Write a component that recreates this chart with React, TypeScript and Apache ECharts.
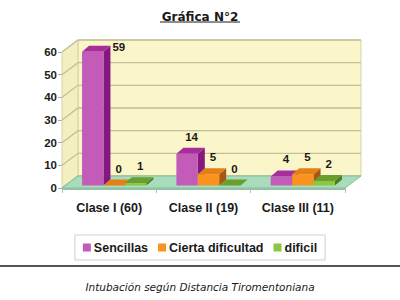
import React, { useEffect, useRef } from "react";
import * as echarts from "echarts";

const categories = ["Clase I (60)", "Clase II (19)", "Clase III (11)"];
const seriesNames = ["Sencillas", "Cierta dificultad", "dificil"];
const sencillas = [59, 14, 4];
const ciertaDificultad = [0, 5, 5];
const dificil = [1, 0, 2];
const yTicks = [0, 10, 20, 30, 40, 50, 60];

const FRONT = ["#c25cb8", "#f7931e", "#8dc73f"];
const TOP = ["#a52d9c", "#e57f16", "#6a9e2e"];
const SIDE = ["#86177e", "#a65812", "#4b7b20"];

const DX = 16; // wall depth
const DY = 12;
const BDX = 7; // bar depth
const BDY = 6;
const SHIFT_X = 5;
const SHIFT_Y = -2.5;

export default function App() {
  const ref = useRef<HTMLDivElement>(null);
  useEffect(() => {
    if (!ref.current) return;
    const chart = echarts.init(ref.current, null, { renderer: "svg" });
    const allSeries = [sencillas, ciertaDificultad, dificil];

    const wallSeries: any = {
      type: "custom",
      name: "__wall",
      silent: true,
      z: 1,
      data: [[0, 0]],
      renderItem: (params: any, api: any) => {
        const cs = params.coordSys;
        const x = cs.x, y = cs.y, w = cs.width, h = cs.height;
        const children: any[] = [];
        children.push({
          type: "polygon",
          shape: { points: [[x + DX, y - DY], [x + w + DX, y - DY], [x + w + DX, y + h - DY], [x + DX, y + h - DY]] },
          style: { fill: "#faf6c9", stroke: "#d6d2a4", lineWidth: 1 },
        });
        children.push({
          type: "polygon",
          shape: { points: [[x, y], [x + DX, y - DY], [x + DX, y + h - DY], [x, y + h]] },
          style: { fill: "#f3efc0", stroke: "#d6d2a4", lineWidth: 1 },
        });
        yTicks.forEach((t) => {
          const p = api.coord([0, t]);
          const yy = p[1];
          children.push({
            type: "polyline",
            shape: { points: [[x, yy], [x + DX, yy - DY], [x + w + DX, yy - DY]] },
            style: { stroke: "#c4c096", lineWidth: 1.3, fill: null },
          });
        });
        children.push({
          type: "polygon",
          shape: { points: [[x, y + h], [x + DX, y + h - DY], [x + w + DX, y + h - DY], [x + w, y + h]] },
          style: { fill: "#a9dcbd", stroke: "#86bf9d", lineWidth: 1 },
        });
        children.push({
          type: "line",
          shape: { x1: x, y1: y + h + 1, x2: x + w, y2: y + h + 1 },
          style: { stroke: "#8fc3a4", lineWidth: 2 },
        });
        return { type: "group", children };
      },
    };

    const barSeries = allSeries.map((vals, k) => ({
      type: "custom",
      name: seriesNames[k],
      z: 3 + k,
      itemStyle: { color: FRONT[k] },
      data: vals.map((v, i) => [i, v]),
      renderItem: (params: any, api: any) => {
        const idx = api.value(0);
        const val = api.value(1);
        const base = api.coord([idx, 0]);
        const top = api.coord([idx, val]);
        const band = api.size([1, 0])[0];
        const bw = band * 0.227;
        const x0 = base[0] - 1.5 * bw + k * bw + SHIFT_X;
        const x1 = x0 + bw;
        const yb = base[1] + SHIFT_Y;
        const yt = top[1] + SHIFT_Y;
        const children: any[] = [
          {
            type: "polygon",
            shape: { points: [[x1, yt], [x1 + BDX, yt - BDY], [x1 + BDX, yb - BDY], [x1, yb]] },
            style: { fill: SIDE[k] },
          },
          {
            type: "polygon",
            shape: { points: [[x0, yt], [x0 + BDX, yt - BDY], [x1 + BDX, yt - BDY], [x1, yt]] },
            style: { fill: TOP[k] },
          },
          {
            type: "rect",
            shape: { x: x0, y: yt, width: bw, height: Math.max(yb - yt, 0) },
            style: { fill: FRONT[k] },
          },
        ];
        const cs = params.coordSys;
        let lx = (x0 + x1 + BDX) / 2 + 1;
        let ly = yt - BDY - 11;
        let align = "center";
        if (ly < cs.y - DY + 4) {
          lx = x1 + BDX + 2;
          ly = yt - BDY + 1;
          align = "left";
        }
        children.push({
          type: "text",
          x: lx,
          y: ly,
          style: {
            text: String(val),
            fill: "#1a1a1a",
            font: "bold 11.5px 'Liberation Sans', Arial, sans-serif",
            align,
            verticalAlign: "middle",
          },
        });
        return { type: "group", children };
      },
    }));

    chart.setOption({
      animation: false,
      title: {
        text: "Gráfica N°2",
        left: "center",
        top: 6,
        textStyle: { fontFamily: "DejaVu Sans", fontWeight: "bold", fontSize: 12, color: "#1a1a1a" },
      },
      graphic: [
        { type: "line", shape: { x1: 160, y1: 22, x2: 240, y2: 22 }, style: { stroke: "#1a1a1a", lineWidth: 1 } },
        { type: "line", shape: { x1: 0, y1: 266, x2: 400, y2: 266 }, style: { stroke: "#555", lineWidth: 2 } },
        {
          type: "text",
          left: "center",
          top: 281,
          style: {
            text: "Intubación según Distancia Tiromentoniana",
            font: "italic 10.5px 'DejaVu Sans', sans-serif",
            fill: "#1a1a1a",
          },
        },
      ],
      legend: {
        data: seriesNames,
        top: 235,
        left: "center",
        icon: "rect",
        itemWidth: 8,
        itemHeight: 8,
        itemGap: 10,
        padding: [6, 8],
        borderColor: "#cfcfcf",
        borderWidth: 1,
        backgroundColor: "#fff",
        selectedMode: false,
        textStyle: { fontFamily: "'Liberation Sans', Arial", fontWeight: "bold", fontSize: 12.5, color: "#1a1a1a", padding: [0, 0, 0, -2] },
      },
      grid: { left: 62, top: 52, width: 283, height: 136 },
      xAxis: {
        type: "category",
        data: categories,
        axisLine: { show: false },
        axisTick: { show: true, length: 5, lineStyle: { color: "#bbb" } },
        axisLabel: { margin: 13, fontFamily: "'Liberation Sans', Arial", fontWeight: "bold", fontSize: 12.5, color: "#1a1a1a" },
        splitLine: { show: false },
      },
      yAxis: {
        type: "value",
        min: 0,
        max: 60,
        interval: 10,
        axisLine: { show: true, lineStyle: { color: "#aaa" } },
        axisTick: { show: true, length: 4, lineStyle: { color: "#aaa" } },
        axisLabel: { margin: 5, fontFamily: "'Liberation Sans', Arial", fontWeight: "bold", fontSize: 11.5, color: "#1a1a1a" },
        splitLine: { show: false },
      },
      series: [wallSeries, ...barSeries],
    });
    return () => chart.dispose();
  }, []);
  return <div ref={ref} style={{ width: 400, height: 300, position: "absolute", left: 0, top: 0 }} />;
}
